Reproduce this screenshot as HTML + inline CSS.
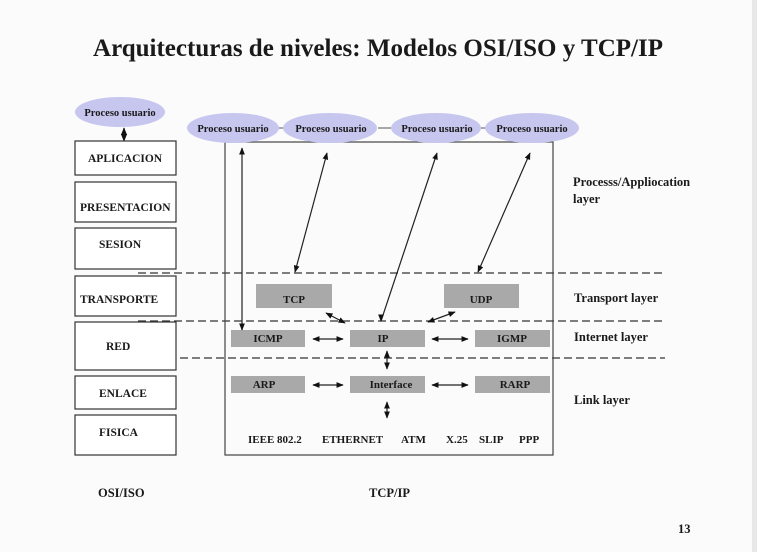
<!DOCTYPE html>
<html><head><meta charset="utf-8"><style>
html,body{margin:0;padding:0;background:#fbfbfb;}
svg{display:block;}
text{font-family:"Liberation Serif",serif;font-weight:bold;fill:#1a1a1a;}
</style></head><body>
<svg width="757" height="552" viewBox="0 0 757 552" xmlns="http://www.w3.org/2000/svg">
<defs>
<marker id="a" viewBox="0 0 10 10" refX="9" refY="5" markerWidth="6" markerHeight="6" orient="auto-start-reverse"><path d="M0,1 L10,5 L0,9 z" fill="#111"/></marker>
</defs>
<rect x="752" y="0" width="5" height="552" fill="#e8e8e8"/>
<text x="378" y="56" font-size="25" text-anchor="middle">Arquitecturas de niveles: Modelos OSI/ISO y TCP/IP</text>

<ellipse cx="120" cy="112" rx="45" ry="15" fill="#c6c6ef"/>
<text x="120" y="116" font-size="10.5" text-anchor="middle">Proceso usuario</text>
<line x1="124" y1="128" x2="124" y2="141" stroke="#111" stroke-width="1.3" marker-start="url(#a)" marker-end="url(#a)"/>
<g fill="#fff" stroke="#333" stroke-width="1.2">
<rect x="75" y="141" width="101" height="34"/>
<rect x="75" y="182" width="101" height="40"/>
<rect x="75" y="228" width="101" height="41"/>
<rect x="75" y="276" width="101" height="40"/>
<rect x="75" y="322" width="101" height="48"/>
<rect x="75" y="376" width="101" height="33"/>
<rect x="75" y="415" width="101" height="40"/>
</g>
<g font-size="11.5">
<text x="88" y="162">APLICACION</text>
<text x="80" y="211">PRESENTACION</text>
<text x="99" y="248">SESION</text>
<text x="80" y="303">TRANSPORTE</text>
<text x="106" y="350">RED</text>
<text x="99" y="397">ENLACE</text>
<text x="99" y="436">FISICA</text>
</g>

<g stroke="#333" stroke-width="1.2" stroke-dasharray="8,4">
<line x1="138" y1="273" x2="665" y2="273"/>
<line x1="138" y1="321" x2="665" y2="321"/>
<line x1="180" y1="358" x2="665" y2="358"/>
</g>

<rect x="225" y="142" width="328" height="313" fill="none" stroke="#444" stroke-width="1.2"/>

<g fill="#c6c6ef">
<ellipse cx="233" cy="128" rx="46" ry="15"/>
<ellipse cx="330" cy="128" rx="47" ry="15"/>
<ellipse cx="436" cy="128" rx="45" ry="15"/>
<ellipse cx="532" cy="128" rx="47" ry="15"/>
</g>
<g stroke="#555"><line x1="279" y1="128" x2="283" y2="128"/><line x1="378" y1="128" x2="391" y2="128"/><line x1="481" y1="128" x2="485" y2="128"/></g>
<g font-size="10.5" text-anchor="middle">
<text x="233" y="132">Proceso usuario</text>
<text x="331" y="132">Proceso usuario</text>
<text x="437" y="132">Proceso usuario</text>
<text x="532" y="132">Proceso usuario</text>
</g>

<g fill="#a9a9a9">
<rect x="256" y="284" width="76" height="24"/>
<rect x="444" y="284" width="75" height="24"/>
<rect x="231" y="330" width="74" height="17"/>
<rect x="350" y="330" width="75" height="17"/>
<rect x="475" y="330" width="75" height="17"/>
<rect x="231" y="376" width="74" height="17"/>
<rect x="350" y="376" width="75" height="17"/>
<rect x="475" y="376" width="75" height="17"/>
</g>
<g font-size="11" text-anchor="middle">
<text x="294" y="303">TCP</text>
<text x="481" y="303">UDP</text>
<text x="268" y="342">ICMP</text>
<text x="383" y="342">IP</text>
<text x="512" y="342">IGMP</text>
<text x="264" y="388">ARP</text>
<text x="391" y="388">Interface</text>
<text x="515" y="388">RARP</text>
</g>

<g stroke="#222" stroke-width="1.2" fill="none">
<line x1="242" y1="330" x2="242" y2="148" marker-end="url(#a)"/>
<line x1="242" y1="324" x2="242" y2="330" marker-end="url(#a)"/>
<line x1="295" y1="272" x2="327" y2="153" marker-start="url(#a)" marker-end="url(#a)"/>
<line x1="381" y1="321" x2="437" y2="153" marker-end="url(#a)"/>
<line x1="381" y1="316" x2="381" y2="321" marker-end="url(#a)"/>
<line x1="478" y1="272" x2="530" y2="153" marker-start="url(#a)" marker-end="url(#a)"/>
<line x1="326" y1="313" x2="345" y2="323" marker-start="url(#a)" marker-end="url(#a)"/>
<line x1="455" y1="312" x2="428" y2="322" marker-start="url(#a)" marker-end="url(#a)"/>
<line x1="313" y1="339" x2="343" y2="339" marker-start="url(#a)" marker-end="url(#a)"/>
<line x1="432" y1="339" x2="468" y2="339" marker-start="url(#a)" marker-end="url(#a)"/>
<line x1="313" y1="385" x2="343" y2="385" marker-start="url(#a)" marker-end="url(#a)"/>
<line x1="432" y1="385" x2="468" y2="385" marker-start="url(#a)" marker-end="url(#a)"/>
<line x1="387" y1="351" x2="387" y2="369" marker-start="url(#a)" marker-end="url(#a)"/>
<line x1="387" y1="402" x2="387" y2="418" marker-start="url(#a)" marker-end="url(#a)"/>
</g>

<g font-size="11">
<text x="248" y="443">IEEE 802.2</text>
<text x="322" y="443">ETHERNET</text>
<text x="401" y="443">ATM</text>
<text x="446" y="443">X.25</text>
<text x="479" y="443">SLIP</text>
<text x="519" y="443">PPP</text>
</g>

<g font-size="12.5">
<text x="573" y="186">Processs/Appliocation</text>
<text x="573" y="203">layer</text>
<text x="574" y="302">Transport layer</text>
<text x="574" y="341">Internet layer</text>
<text x="574" y="404">Link layer</text>
<text x="98" y="497">OSI/ISO</text>
<text x="369" y="497">TCP/IP</text>
<text x="678" y="533">13</text>
</g>
</svg>
</body></html>
